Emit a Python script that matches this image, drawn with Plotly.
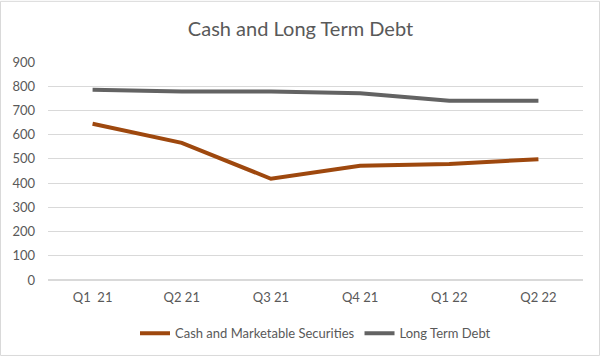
import plotly.graph_objects as go

quarters = ["Q1  21", "Q2 21", "Q3 21", "Q4 21", "Q1 22", "Q2 22"]
cash = [645, 566, 418, 472, 479, 499]
debt = [785, 778, 778, 771, 740, 740]
y_ticks = [0, 100, 200, 300, 400, 500, 600, 700, 800, 900]

PW, PH = 535, 221
L, R, T, B = 48, 18, 62, 78

fig = go.Figure()
fig.add_trace(go.Scatter(x=quarters, y=cash, mode="lines", name="Cash and Marketable Securities",
                         line=dict(color="#9E480E", width=4)))
fig.add_trace(go.Scatter(x=quarters, y=debt, mode="lines", name="Long Term Debt",
                         line=dict(color="#636363", width=4)))

fig.update_layout(
    width=601, height=361,
    margin=dict(l=L, r=R, t=T, b=B),
    paper_bgcolor="white", plot_bgcolor="white",
    font=dict(family="Lato, Carlito, Liberation Sans, sans-serif", size=13, color="#595959"),
    title=dict(text="Cash and Long Term Debt", x=0.5, xanchor="center", y=0.92, yanchor="middle",
               font=dict(size=20, color="#595959")),
    xaxis=dict(range=[-0.5, 5.5], showgrid=False, showline=False, ticks="", ticklabelstandoff=8),
    yaxis=dict(range=[0, 900], tickvals=y_ticks, showgrid=True, gridcolor="#D9D9D9", gridwidth=1,
               zeroline=True, zerolinecolor="#D9D9D9", showline=False, ticks="", ticklabelstandoff=12),
    legend=dict(orientation="h", x=0.5, xanchor="center", y=-0.245, yanchor="middle",
                font=dict(size=13, color="#595959"), tracegroupgap=0),
    showlegend=True,
    shapes=[dict(type="rect", xref="paper", yref="paper",
                 x0=-(L - 0.5) / PW, x1=1 + (R - 1.5) / PW,
                 y0=-(B - 1.5) / PH, y1=1 + (T - 0.5) / PH,
                 line=dict(color="#D9D9D9", width=1))],
)

fig.write_html("out.html",
               config={"displayModeBar": False},
               post_script="document.body.style.margin='0';document.body.style.padding='0';document.body.style.overflow='hidden';")
